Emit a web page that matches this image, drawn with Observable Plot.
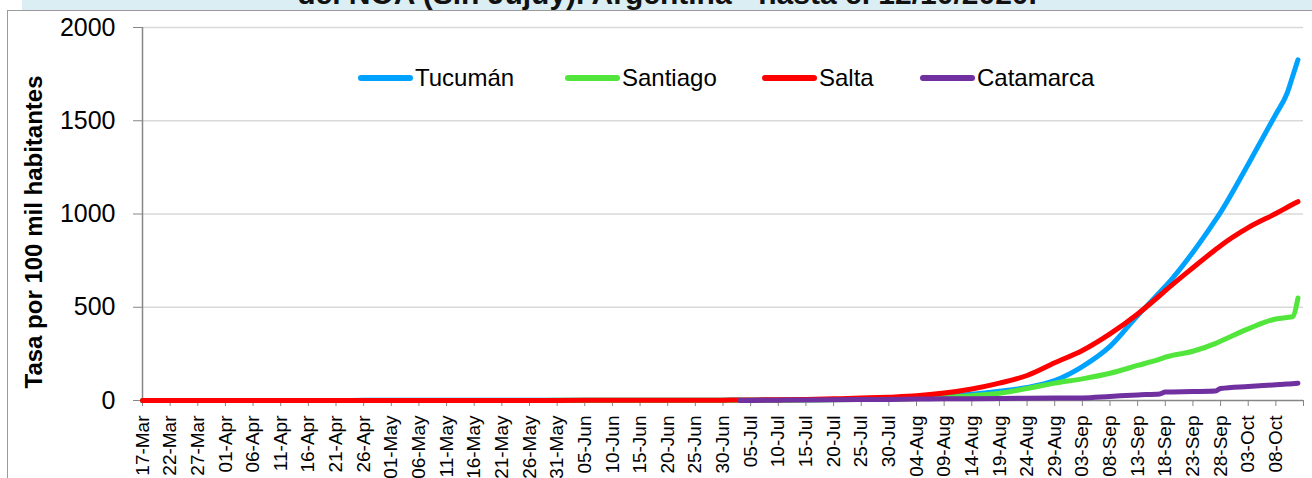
<!DOCTYPE html>
<html><head><meta charset="utf-8">
<script src="https://cdn.jsdelivr.net/npm/d3@7"></script>
<script src="https://cdn.jsdelivr.net/npm/@observablehq/plot@0.6"></script>
<style>
html,body{margin:0;padding:0;background:#fff;}
#wrap{position:relative;width:1312px;height:478px;overflow:hidden;font-family:"Liberation Sans",Arial,sans-serif;}
#box{position:absolute;left:7px;top:10px;width:1400px;height:600px;border:1px solid #9a9a9a;box-sizing:border-box;}
#band{position:absolute;left:22px;top:0;width:1290px;height:10px;background:#dbeef4;}
#title{position:absolute;left:22px;top:-21px;width:1290px;text-align:center;font-weight:bold;font-size:30px;line-height:30px;color:#111;white-space:nowrap;}
#chart{position:absolute;left:0;top:0;}
.leg{position:absolute;top:63px;height:30px;display:flex;align-items:center;font-size:24px;line-height:30px;color:#000;white-space:nowrap;}
.sw{width:55px;height:6px;border-radius:3px;margin-right:2px;}
</style></head><body>
<div id="wrap">
 <div id="box"></div>
 <div id="band"></div>
 <div id="title">del NOA (Sin Jujuy). Argentina - hasta el 12/10/2020.</div>
 <div id="chart"></div>
 <div id="legend"></div>
</div>
<script>
// ---- data ----
const dates = [
 "2020-03-17","2020-03-22","2020-03-27",
 "2020-04-01","2020-04-06","2020-04-11","2020-04-16","2020-04-21","2020-04-26",
 "2020-05-01","2020-05-06","2020-05-11","2020-05-16","2020-05-21","2020-05-26","2020-05-31",
 "2020-06-05","2020-06-10","2020-06-15","2020-06-20","2020-06-25","2020-06-30",
 "2020-07-03","2020-07-05","2020-07-10","2020-07-15","2020-07-20","2020-07-25","2020-07-30",
 "2020-08-04","2020-08-09","2020-08-14","2020-08-19","2020-08-24","2020-08-29",
 "2020-09-03","2020-09-08","2020-09-13","2020-09-17","2020-09-18","2020-09-23","2020-09-27","2020-09-28",
 "2020-10-03","2020-10-08","2020-10-10","2020-10-11","2020-10-12"
];
const tucuman = [
 0,0,0.1, 0.2,0.3,0.4,0.5,0.6,0.7, 0.8,0.8,0.9,0.9,1,1,1.1, 1.2,1.3,1.4,1.5,1.7,2,
 2.2,2.5,3,4,5,7,10, 15,23,34,50,70,107,
 182,290,455,580,611,795,964,1009, 1267,1535,1645,1735,1827
];
const santiago = [
 0,0,0, 0.1,0.1,0.2,0.2,0.3,0.3, 0.3,0.4,0.4,0.5,0.5,0.6,0.7, 0.8,0.9,1,1.1,1.2,1.4,
 1.5,1.6,2,2.5,3.5,5,7, 11,17,26,39,64,93,
 116,146,188,222,232,264,305,318, 384,437,445,449,550
];
const salta = [
 0,0,0, 0.1,0.1,0.1,0.2,0.2,0.2, 0.2,0.3,0.3,0.3,0.4,0.5,0.6, 0.7,0.8,1,1.2,1.5,2,
 2.5,3,4,6,9,13,18, 25,40,62,93,134,202,
 268,357,464,563,589,712,807,830, 927,1003,1035,1051,1066
];
const catamarca = [
 null,null,null, null,null,null,null,null,null, null,null,null,null,null,null,null, null,null,null,null,null,null,
 0,0.5,2,3,4,5,6, 8,9,10,11,12,13,
 14,22,30,35,45,48,51,64, 75,84,88,90,93
];
const seriesNames = ["Tucumán","Santiago","Salta","Catamarca"];
const seriesColors = ["#00A2FF","#52E63C","#FF0000","#7030A0"];
const tickDates = [
 "2020-03-17","2020-03-22","2020-03-27","2020-04-01","2020-04-06","2020-04-11","2020-04-16",
 "2020-04-21","2020-04-26","2020-05-01","2020-05-06","2020-05-11","2020-05-16","2020-05-21",
 "2020-05-26","2020-05-31","2020-06-05","2020-06-10","2020-06-15","2020-06-20","2020-06-25",
 "2020-06-30","2020-07-05","2020-07-10","2020-07-15","2020-07-20","2020-07-25","2020-07-30",
 "2020-08-04","2020-08-09","2020-08-14","2020-08-19","2020-08-24","2020-08-29","2020-09-03",
 "2020-09-08","2020-09-13","2020-09-18","2020-09-23","2020-09-28","2020-10-03","2020-10-08"
];
const yTicks = [0,500,1000,1500,2000];
const xStart = "2020-03-17", xEnd = "2020-10-13";
const yTitle = "Tasa por 100 mil habitantes";

// ---- build ----
const allSeries = [tucuman, santiago, salta, catamarca];
const rows = [];
seriesNames.forEach((name, i) => dates.forEach((d, j) => {
  const v = allSeries[i][j];
  if (v != null) rows.push({name, date: new Date(d), value: v});
}));

const axisGray = "#868686";
const chart = Plot.plot({
  width: 1312, height: 478,
  marginLeft: 142, marginRight: 9, marginTop: 27, marginBottom: 78,
  style: {fontFamily: '"Liberation Sans", Arial, sans-serif', background: "transparent", color: "#000", overflow: "visible"},
  x: {type: "utc", domain: [new Date(xStart), new Date(xEnd)]},
  y: {domain: [0, 2000]},
  color: {domain: seriesNames, range: seriesColors},
  marks: [
    Plot.gridY(yTicks.filter(t => t > 0), {stroke: "#d9d9d9", strokeOpacity: 1, strokeWidth: 1.5}),
    Plot.ruleY([0], {stroke: axisGray, strokeWidth: 1.5}),
    Plot.ruleX([new Date(xStart)], {stroke: axisGray, strokeWidth: 1.5}),
    Plot.axisY({ticks: yTicks, tickFormat: "d", tickSize: 9, tickPadding: 18, fontSize: 25, stroke: axisGray, fill: "#000", label: null}),
    Plot.axisX({ticks: tickDates.map(d => new Date(d)), tickFormat: d3.utcFormat("%d-%b"), tickRotate: -90,
      tickSize: 6, tickPadding: 9, fontSize: 19, stroke: axisGray, fill: "#000", label: null}),
    Plot.axisX({ticks: [new Date(xEnd)], tickFormat: () => "", tickSize: 6, stroke: axisGray, label: null}),
    Plot.text([yTitle], {frameAnchor: "left", textAnchor: "middle", rotate: -90, dx: -108, dy: 18, fontSize: 24, fontWeight: "bold", fill: "#000"}),
    Plot.lineY(rows, {x: "date", y: "value", z: "name", stroke: "name", strokeWidth: 5, curve: "monotone-x"})
  ]
});
document.getElementById("chart").appendChild(chart);

// ---- legend ----
const legendLeft = [358, 565, 762, 920];
const legend = document.getElementById("legend");
seriesNames.forEach((name, i) => {
  const item = document.createElement("div");
  item.className = "leg";
  item.style.left = legendLeft[i] + "px";
  const sw = document.createElement("div");
  sw.className = "sw";
  sw.style.background = seriesColors[i];
  const tx = document.createElement("span");
  tx.textContent = name;
  item.appendChild(sw); item.appendChild(tx);
  legend.appendChild(item);
});
</script>
</body></html>
